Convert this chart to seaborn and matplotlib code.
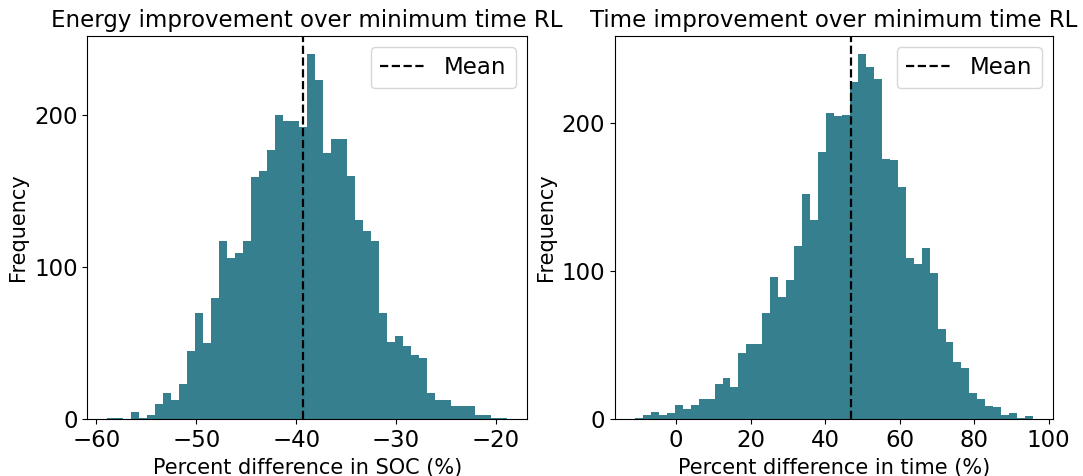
import numpy as np
import pandas as pd
import matplotlib
matplotlib.use("Agg")
import matplotlib.pyplot as plt
import seaborn as sns

# ---- data ----
soc_range = (-58.9, -18.9)
soc_counts = [1, 1, 0, 5, 1, 3, 10, 17, 13, 23,
              45, 70, 50, 80, 117, 106, 109, 117, 159, 163,
              177, 200, 196, 196, 192, 240, 223, 175, 184, 184,
              160, 131, 124, 117, 70, 51, 55, 48, 42, 40,
              17, 13, 13, 9, 9, 9, 3, 3, 1, 1]
soc_mean = -39.35

time_range = (-11.06, 95.85)
time_counts = [1, 3, 5, 3, 4, 10, 7, 10, 14, 14,
               24, 28, 22, 45, 51, 51, 72, 96, 83, 94,
               117, 152, 135, 181, 207, 205, 206, 228, 247, 238,
               230, 176, 175, 157, 109, 105, 116, 99, 61, 52,
               39, 35, 18, 14, 9, 8, 3, 4, 1, 2]
time_mean = 46.85

titles = ["Energy improvement over minimum time RL",
          "Time improvement over minimum time RL"]
xlabels = ["Percent difference in SOC (%)", "Percent difference in time (%)"]
ylabel = "Frequency"
legend_label = "Mean"

bar_color = "#357F8F"

fig = plt.figure(figsize=(10.83, 4.76), dpi=100)
ax1 = fig.add_axes([0.0806, 0.1191, 0.406, 0.806])
ax2 = fig.add_axes([0.5679, 0.1191, 0.4044, 0.806])

panels = [(ax1, soc_range, soc_counts, soc_mean),
          (ax2, time_range, time_counts, time_mean)]

for i, (ax, rng, counts, mean) in enumerate(panels):
    n = len(counts)
    width = (rng[1] - rng[0]) / n
    centers = rng[0] + width * (np.arange(n) + 0.5)
    df = pd.DataFrame({"value": centers, "count": np.asarray(counts, dtype=float)})
    sns.histplot(data=df, x="value", weights="count", bins=n, binrange=rng,
                 color=bar_color, alpha=1.0, linewidth=0, ax=ax)
    ax.axvline(mean, color="black", linestyle="--", linewidth=1.6, label=legend_label)
    ax.set_title(titles[i], fontsize=16.5)
    ax.set_xlabel(xlabels[i], fontsize=15)
    ax.set_ylabel(ylabel, fontsize=15)
    ax.tick_params(labelsize=16.5)
    ax.set_yticks([0, 100, 200])
    ax.legend(loc="upper right", fontsize=16.5)

fig.savefig("out.png", dpi=100)
